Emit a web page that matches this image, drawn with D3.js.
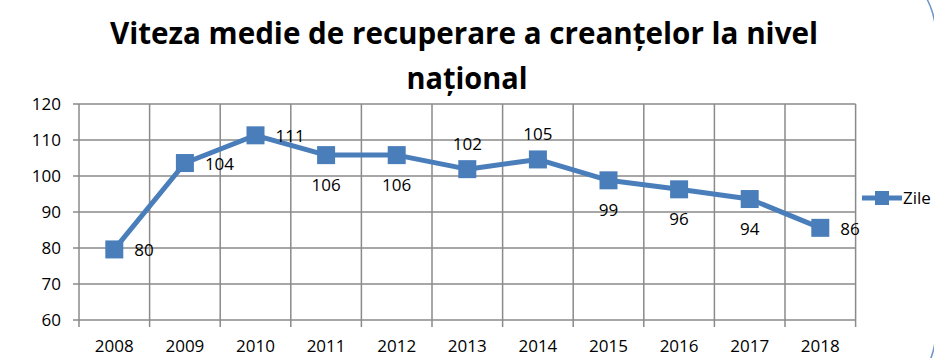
<!DOCTYPE html>
<html>
<head>
<meta charset="utf-8">
<script src="https://cdn.jsdelivr.net/npm/d3@7"></script>
<style>
  body { margin: 0; background: #fff; }
  svg { display: block; font-family: "Open Sans", sans-serif; }
</style>
</head>
<body>
<svg id="chart"></svg>
<script>
// Chart data
const years = ["2008", "2009", "2010", "2011", "2012", "2013", "2014", "2015", "2016", "2017", "2018"];
const zile = [79.6, 103.6, 111.3, 105.8, 105.8, 101.9, 104.6, 98.8, 96.3, 93.6, 85.6];
const labelPos = ["right", "right", "right", "below", "below", "above", "above", "below", "below", "below", "right"];
const yTicks = [60, 70, 80, 90, 100, 110, 120];
const seriesName = "Zile";
const titleLines = ["Viteza medie de recuperare a creanțelor la nivel", "național"];

const width = 934;
const height = 358;
const color = "#4a7ebb";
const gridColor = "#8a8a8a";

const svg = d3.select("#chart").attr("width", width).attr("height", height);

// Plot area
const plotLeft = 79, plotRight = 855.6, plotTop = 104, plotBottom = 320;

const x = d3.scaleBand().domain(years).range([plotLeft, plotRight]).padding(0);
const y = d3.scaleLinear().domain([60, 120]).range([plotBottom, plotTop]);

// Rounded frame, only its right corners show inside the window
svg.append("rect")
  .attr("x", -100).attr("y", -44)
  .attr("width", 1036).attr("height", 454)
  .attr("rx", 80)
  .attr("fill", "none")
  .attr("stroke", "#6f95c9")
  .attr("stroke-width", 1.5);

// Title
svg.selectAll("text.title")
  .data(titleLines)
  .enter()
  .append("text")
  .attr("class", "title")
  .attr("x", (d, i) => (i === 0 ? 464 : 467))
  .attr("y", (d, i) => (i === 0 ? 44 : 89))
  .attr("text-anchor", "middle")
  .attr("font-size", "31px")
  .attr("font-weight", "bold")
  .attr("fill", "#000")
  .attr("textLength", (d, i) => (i === 0 ? 708 : 121))
  .attr("lengthAdjust", "spacingAndGlyphs")
  .text(d => d);

// Horizontal grid lines + y ticks
svg.append("g")
  .selectAll("line")
  .data(yTicks)
  .enter()
  .append("line")
  .attr("x1", plotLeft - 6)
  .attr("x2", plotRight)
  .attr("y1", d => y(d))
  .attr("y2", d => y(d))
  .attr("stroke", gridColor)
  .attr("stroke-width", 1.5);

// Vertical grid lines at category boundaries + x ticks
const bounds = years.map(d => x(d)).concat([plotRight]);
svg.append("g")
  .selectAll("line")
  .data(bounds)
  .enter()
  .append("line")
  .attr("x1", d => d)
  .attr("x2", d => d)
  .attr("y1", plotTop)
  .attr("y2", plotBottom + 7)
  .attr("stroke", gridColor)
  .attr("stroke-width", 1.5);

// Y tick labels
svg.append("g")
  .selectAll("text")
  .data(yTicks)
  .enter()
  .append("text")
  .attr("x", 61)
  .attr("y", d => y(d))
  .attr("dy", "0.35em")
  .attr("text-anchor", "end")
  .attr("font-size", "17px")
  .attr("fill", "#000")
  .text(d => d);

// X tick labels
svg.append("g")
  .selectAll("text")
  .data(years)
  .enter()
  .append("text")
  .attr("x", d => x(d) + x.bandwidth() / 2)
  .attr("y", 352)
  .attr("text-anchor", "middle")
  .attr("font-size", "17px")
  .attr("fill", "#000")
  .text(d => d);

// Series line
const points = years.map((d, i) => [x(d) + x.bandwidth() / 2, y(zile[i])]);
const line = d3.line();

svg.append("path")
  .attr("d", line(points))
  .attr("fill", "none")
  .attr("stroke", color)
  .attr("stroke-width", 5)
  .attr("stroke-linejoin", "round");

// Square markers
const ms = 18;
svg.append("g")
  .selectAll("rect")
  .data(points)
  .enter()
  .append("rect")
  .attr("x", d => d[0] - ms / 2)
  .attr("y", d => d[1] - ms / 2)
  .attr("width", ms)
  .attr("height", ms)
  .attr("fill", color);

// Data labels
svg.append("g")
  .selectAll("text")
  .data(points)
  .enter()
  .append("text")
  .attr("x", (d, i) => (labelPos[i] === "right" ? d[0] + 20 : d[0]))
  .attr("y", (d, i) => {
    if (labelPos[i] === "below") return d[1] + 30;
    if (labelPos[i] === "above") return d[1] - 25;
    return d[1] + 1;
  })
  .attr("dy", "0.35em")
  .attr("text-anchor", (d, i) => (labelPos[i] === "right" ? "start" : "middle"))
  .attr("font-size", "17px")
  .attr("fill", "#000")
  .text((d, i) => Math.round(zile[i]));

// Legend
const legend = svg.append("g").attr("transform", "translate(862,198)");
legend.append("line")
  .attr("x1", 0).attr("x2", 40)
  .attr("stroke", color)
  .attr("stroke-width", 5);
legend.append("rect")
  .attr("x", 13).attr("y", -7)
  .attr("width", 14).attr("height", 14)
  .attr("fill", color);
legend.append("text")
  .attr("x", 41)
  .attr("dy", "0.35em")
  .attr("font-size", "17px")
  .attr("fill", "#000")
  .text(seriesName);
</script>
</body>
</html>
